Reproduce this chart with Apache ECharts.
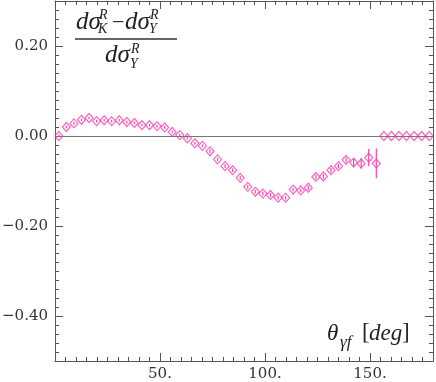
<!DOCTYPE html>
<html>
<head>
<meta charset="utf-8">
<script src="https://cdn.jsdelivr.net/npm/echarts@6/dist/echarts.min.js"></script>
<style>
  html, body { margin: 0; padding: 0; background: #fff; }
  #main { width: 436px; height: 382px; }
</style>
</head>
<body>
<div id="main"></div>
<script>
// bin centres of theta_gamma_f [deg]
var angles = [1.8, 5.4, 9.0, 12.6, 16.2, 19.8, 23.4, 27.0, 30.6, 34.2,
  37.8, 41.4, 45.0, 48.6, 52.2, 55.8, 59.4, 63.0, 66.6, 70.2,
  73.8, 77.4, 81.0, 84.6, 88.2, 91.8, 95.4, 99.0, 102.6, 106.2,
  109.8, 113.4, 117.0, 120.6, 124.2, 127.8, 131.4, 135.0, 138.6, 142.2,
  145.8, 149.4, 153.0, 156.6, 160.2, 163.8, 167.4, 171.0, 174.6, 178.2];
// (dsigma_K - dsigma_Y) / dsigma_Y
var ratio = [0.000, 0.020, 0.028, 0.036, 0.040, 0.033, 0.035, 0.033, 0.035, 0.031,
  0.029, 0.024, 0.024, 0.022, 0.019, 0.009, 0.002, -0.005, -0.016, -0.022,
  -0.034, -0.052, -0.067, -0.076, -0.093, -0.113, -0.124, -0.128, -0.131, -0.137,
  -0.137, -0.119, -0.121, -0.115, -0.091, -0.090, -0.076, -0.067, -0.053, -0.059,
  -0.061, -0.048, -0.061, 0, 0, 0, 0, 0, 0, 0];
var errors = [0.003, 0.003, 0.003, 0.003, 0.003, 0.003, 0.003, 0.003, 0.003, 0.003,
  0.003, 0.003, 0.003, 0.003, 0.003, 0.003, 0.003, 0.003, 0.003, 0.003,
  0.004, 0.004, 0.004, 0.004, 0.004, 0.004, 0.004, 0.004, 0.004, 0.004,
  0.004, 0.004, 0.004, 0.005, 0.005, 0.005, 0.005, 0.005, 0.006, 0.008,
  0.012, 0.019, 0.033, 0, 0, 0, 0, 0, 0, 0];
var yMajor = [-0.4, -0.2, 0, 0.2];
var xMajor = [50, 100, 150];

var pink = '#ff3fae';
var frame = '#555';
var labelFont = 'DejaVu Serif';
var mathFont = '"Liberation Serif"';

var points = [];
for (var i = 0; i < angles.length; i++) {
  points.push([angles[i], ratio[i], errors[i]]);
}

function isMajorY(v) {
  for (var k = 0; k < yMajor.length; k++) {
    if (Math.abs(v - yMajor[k]) < 1e-6) return true;
  }
  return false;
}

function fmtY(v) {
  if (!isMajorY(v)) return '';
  var s = Math.abs(v).toFixed(2);
  return v < -1e-9 ? '\u2212' + s : s;
}

function fmtX(v) {
  return xMajor.indexOf(v) >= 0 ? v + '.' : '';
}

function xAxisFor(pos, withLabels) {
  return {
    type: 'value', position: pos, min: 0, max: 180, interval: 50,
    axisLine: { show: true, onZero: false, lineStyle: { color: frame, width: 1 } },
    axisTick: { show: true, inside: true, length: 8, lineStyle: { color: frame } },
    minorTick: { show: true, splitNumber: 10, length: 4, lineStyle: { color: frame } },
    splitLine: { show: false },
    axisLabel: {
      show: withLabels, margin: 6, color: '#333',
      fontFamily: labelFont, fontSize: 15, formatter: fmtX
    }
  };
}

// short ticks every 0.02
function yAxisFor(pos, withLabels) {
  return {
    type: 'value', position: pos, min: -0.5, max: 0.3, interval: 0.1,
    axisLine: { show: true, onZero: false, lineStyle: { color: frame, width: 1 } },
    axisTick: { show: true, inside: true, length: 4, lineStyle: { color: frame } },
    minorTick: { show: true, splitNumber: 5, length: 4, lineStyle: { color: frame } },
    splitLine: { show: false },
    axisLabel: {
      show: withLabels, margin: 7, color: '#333',
      fontFamily: labelFont, fontSize: 15, formatter: fmtY
    }
  };
}

function txt(x, y, s, size, italic) {
  return {
    type: 'text', x: x, y: y,
    style: {
      text: s, font: (italic ? 'italic ' : '') + size + 'px ' + mathFont,
      fill: '#222', verticalAlign: 'middle'
    }
  };
}

var MyEcharts = echarts.init(document.getElementById('main'));

var option = {
  animation: false,
  grid: { left: 55, right: 3, top: 1, bottom: 21, outerBoundsMode: 'none' },
  xAxis: [xAxisFor('bottom', true), xAxisFor('top', false)],
  yAxis: [yAxisFor('left', true), yAxisFor('right', false)],
  series: [
    {
      type: 'scatter',
      data: points,
      symbol: 'diamond',
      symbolSize: [8, 9],
      itemStyle: { color: 'rgba(0,0,0,0)', borderColor: pink, borderWidth: 1.2 },
      z: 3,
      markLine: {
        silent: true,
        symbol: 'none',
        label: { show: false },
        lineStyle: { color: '#777', type: 'solid', width: 1 },
        data: [{ yAxis: 0 }]
      }
    },
    {
      type: 'custom',
      data: points,
      z: 4,
      renderItem: function (params, api) {
        var x = api.value(0), y = api.value(1), e = api.value(2);
        if (!e) return null;
        var p1 = api.coord([x, y - e]);
        var p2 = api.coord([x, y + e]);
        return {
          type: 'line',
          shape: { x1: p1[0], y1: p1[1], x2: p2[0], y2: p2[1] },
          style: { stroke: pink, lineWidth: 1.2 }
        };
      }
    }
  ],
  graphic: [
    // numerator
    txt(76, 22, 'd\u03c3', 25, true),
    txt(99, 15, 'R', 14, true),
    txt(98, 29, 'K', 14, true),
    txt(112, 23, '\u2212', 22, false),
    txt(125, 22, 'd\u03c3', 25, true),
    txt(150, 15, 'R', 14, true),
    txt(149, 29, 'Y', 14, true),
    { type: 'line', shape: { x1: 75, y1: 39, x2: 177, y2: 39 }, style: { stroke: '#333', lineWidth: 1.5 } },
    // denominator
    txt(105, 55, 'd\u03c3', 25, true),
    txt(131, 49, 'R', 14, true),
    txt(130, 64, 'Y', 14, true),
    // x axis name
    txt(327, 334, '\u03b8', 23, true),
    txt(340, 343, '\u03b3f', 17, true),
    txt(362, 333, '[', 23, false),
    txt(369, 334, 'deg', 23, true),
    txt(402, 333, ']', 23, false)
  ]
};

if (MyEcharts) {
  MyEcharts.setOption(option);
}

// longer ticks at the labelled y values, placed through the axis scale
var grid = MyEcharts.getModel().getComponent('grid').coordinateSystem.getRect();
var majorTicks = [];
yMajor.forEach(function (v) {
  var py = Math.round(MyEcharts.convertToPixel({ yAxisIndex: 0 }, v)) + 0.5;
  majorTicks.push({ type: 'line', silent: true, shape: { x1: grid.x, y1: py, x2: grid.x + 8, y2: py }, style: { stroke: frame, lineWidth: 1 } });
  majorTicks.push({ type: 'line', silent: true, shape: { x1: grid.x + grid.width - 8, y1: py, x2: grid.x + grid.width, y2: py }, style: { stroke: frame, lineWidth: 1 } });
});
MyEcharts.setOption({ graphic: option.graphic.concat(majorTicks) });

window.addEventListener('resize', function () {
  MyEcharts.resize();
});
</script>
</body>
</html>
